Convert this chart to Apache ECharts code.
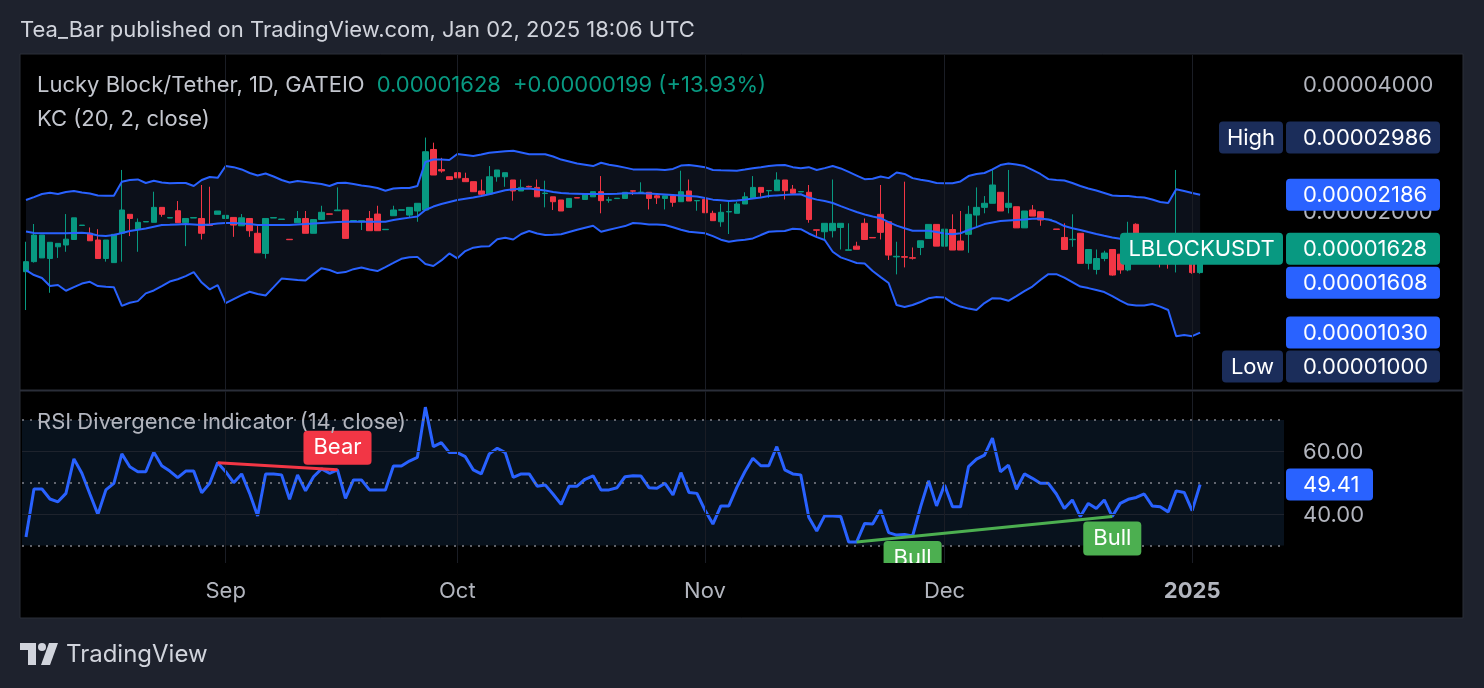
<!DOCTYPE html>
<html>
<head>
<meta charset="utf-8">
<title>LBLOCKUSDT 1D - KC + RSI divergence</title>
<script src="https://cdn.jsdelivr.net/npm/echarts@6.0.0/dist/echarts.min.js"></script>
<style>
  html, body { margin: 0; padding: 0; background: #1e222d; }
  #chart { width: 1484px; height: 688px; }
</style>
</head>
<body>
<div id="chart"></div>
<script>
// prices are kept in units of 0.00001 USDT
const UNIT = 1e-5
const firstDay = '2024-08-07'
const missingDay = '2024-09-17' // the feed has one September bar less
const padBars = 10

const opens = [
  1.436, 1.517, 1.548, 1.543, 1.645, 1.661, 1.712, 1.848, 1.771, 1.707,
  1.543, 1.509, 1.771, 1.964, 1.811, 1.884, 1.880, 2.040, 1.925, 2.003,
  1.876, 1.925, 1.920, 1.859, 1.964, 1.920, 1.931, 1.845, 1.920, 1.771,
  1.587, 1.925, 1.910, 1.714, 1.876, 1.920, 1.771, 1.909, 1.969, 2.003,
  2.011, 1.895, 1.886, 1.920, 1.967, 1.806, 1.949, 2.009, 1.956, 2.000,
  2.011, 2.798, 2.508, 2.411, 2.465, 2.389, 2.347, 2.231, 2.194, 2.411,
  2.411, 2.369, 2.231, 2.288, 2.275, 2.200, 2.161, 2.124, 2.040, 2.151,
  2.130, 2.161, 2.222, 2.122, 2.140, 2.142, 2.233, 2.213, 2.215, 2.173,
  2.142, 2.173, 2.104, 2.231, 2.114, 2.130, 1.975, 1.886, 1.990, 1.975,
  2.078, 2.142, 2.275, 2.233, 2.234, 2.369, 2.253, 2.220, 2.215, 1.805,
  1.786, 1.796, 1.828, 1.614, 1.651, 1.870, 1.731, 1.964, 1.886, 1.557,
  1.559, 1.550, 1.639, 1.722, 1.859, 1.651, 1.808, 1.698, 1.761, 1.956,
  2.040, 2.086, 2.215, 2.040, 2.047, 1.824, 2.011, 1.992, 1.907, 1.813,
  1.731, 1.710, 1.771, 1.503, 1.454, 1.543, 1.621, 1.580, 1.450, 1.860,
  1.620, 1.620, 1.540, 1.530, 1.500, 1.600, 1.510, 1.429
]
const closes = [
  1.517, 1.754, 1.754, 1.686, 1.676, 1.715, 1.927, 1.852, 1.700, 1.543,
  1.707, 1.761, 2.011, 1.920, 1.880, 1.888, 2.040, 1.964, 1.929, 1.876,
  1.920, 1.929, 1.771, 1.849, 2.000, 1.953, 1.852, 1.927, 1.796, 1.592,
  1.920, 1.929, 1.914, 1.710, 1.920, 1.771, 1.909, 1.986, 1.965, 2.011,
  1.722, 1.899, 1.897, 1.796, 1.796, 1.810, 2.011, 2.013, 2.040, 2.086,
  2.764, 2.434, 2.488, 2.375, 2.397, 2.347, 2.222, 2.191, 2.411, 2.502,
  2.465, 2.231, 2.275, 2.280, 2.161, 2.205, 2.104, 2.000, 2.142, 2.147,
  2.191, 2.222, 2.116, 2.126, 2.144, 2.215, 2.229, 2.217, 2.142, 2.149,
  2.173, 2.097, 2.222, 2.112, 2.118, 1.981, 1.897, 1.986, 1.994, 2.078,
  2.161, 2.275, 2.215, 2.237, 2.369, 2.234, 2.203, 2.224, 1.909, 1.801,
  1.870, 1.870, 1.870, 1.618, 1.623, 1.712, 1.727, 1.780, 1.572, 1.562,
  1.554, 1.546, 1.700, 1.859, 1.651, 1.811, 1.616, 1.616, 1.964, 2.040,
  2.086, 2.305, 2.000, 2.086, 1.824, 2.000, 1.945, 1.904, 1.911, 1.809,
  1.621, 1.714, 1.503, 1.621, 1.543, 1.590, 1.410, 1.450, 1.600, 1.620,
  1.640, 1.540, 1.530, 1.500, 1.600, 1.550, 1.429, 1.628
]
const lows = [
  1.165, 1.509, 1.548, 1.280, 1.548, 1.601, 1.712, 1.848, 1.700, 1.543,
  1.517, 1.509, 1.517, 1.744, 1.601, 1.884, 1.880, 1.938, 1.925, 1.876,
  1.651, 1.925, 1.712, 1.849, 1.964, 1.000, 1.737, 1.845, 1.737, 1.592,
  1.543, 1.925, 1.910, 1.710, 1.876, 1.771, 1.771, 1.909, 1.965, 2.003,
  1.722, 1.895, 1.803, 1.796, 1.796, 1.806, 1.949, 2.009, 1.931, 1.886,
  2.011, 2.434, 2.465, 2.375, 2.097, 2.347, 2.222, 2.161, 2.194, 2.347,
  2.283, 2.116, 2.231, 2.275, 2.161, 2.040, 2.011, 2.000, 2.040, 2.147,
  2.130, 2.161, 1.975, 2.093, 2.140, 2.142, 2.182, 2.213, 2.017, 2.078,
  2.017, 2.047, 2.104, 2.112, 2.003, 1.981, 1.897, 1.835, 1.764, 1.975,
  2.078, 2.142, 2.161, 2.149, 2.234, 2.130, 2.182, 2.220, 1.876, 1.744,
  1.712, 1.731, 1.621, 1.614, 1.623, 1.712, 1.727, 1.712, 1.531, 1.415,
  1.470, 1.534, 1.572, 1.722, 1.651, 1.651, 1.616, 1.616, 1.592, 1.828,
  1.975, 2.086, 2.000, 1.975, 1.824, 1.824, 1.945, 1.845, 1.907, 1.809,
  1.621, 1.645, 1.503, 1.454, 1.415, 1.520, 1.405, 1.420, 1.440, 1.600,
  1.580, 1.520, 1.470, 1.460, 1.430, 1.530, 1.420, 1.420
]
const highs = [
  1.691, 1.863, 1.754, 1.686, 1.676, 1.967, 1.927, 1.852, 1.828, 1.811,
  1.707, 1.761, 2.502, 1.964, 1.920, 1.888, 2.222, 2.040, 1.929, 2.112,
  1.920, 1.929, 2.305, 2.283, 2.000, 1.953, 1.931, 1.967, 1.920, 1.842,
  1.920, 1.929, 1.914, 1.714, 2.000, 2.000, 1.909, 2.058, 1.969, 2.275,
  2.011, 1.899, 1.897, 2.000, 2.058, 1.810, 2.058, 2.013, 2.040, 2.086,
  2.986, 2.904, 2.673, 2.411, 2.729, 2.465, 2.347, 2.375, 2.556, 2.502,
  2.465, 2.369, 2.375, 2.296, 2.375, 2.360, 2.161, 2.124, 2.142, 2.151,
  2.191, 2.222, 2.420, 2.161, 2.144, 2.215, 2.233, 2.339, 2.215, 2.203,
  2.173, 2.173, 2.492, 2.375, 2.118, 2.130, 2.003, 2.078, 2.104, 2.104,
  2.215, 2.420, 2.275, 2.237, 2.471, 2.369, 2.305, 2.224, 2.305, 1.805,
  1.870, 2.375, 1.870, 1.870, 1.691, 1.920, 1.731, 2.305, 1.886, 1.691,
  2.347, 1.639, 1.700, 1.859, 1.859, 1.859, 1.964, 2.000, 2.058, 2.275,
  2.170, 2.502, 2.215, 2.502, 2.047, 2.000, 2.066, 1.992, 1.911, 1.813,
  1.870, 1.964, 1.771, 1.621, 1.621, 1.610, 1.621, 1.600, 1.886, 1.870,
  1.660, 1.630, 1.560, 1.540, 2.502, 1.630, 1.550, 1.650
]

// Keltner channel (20, 2, close)
const kcUpper = [
  2.124, 2.158, 2.194, 2.210, 2.194, 2.219, 2.231, 2.213, 2.200, 2.176,
  2.173, 2.173, 2.347, 2.369, 2.376, 2.330, 2.360, 2.337, 2.327, 2.330,
  2.330, 2.292, 2.369, 2.407, 2.397, 2.556, 2.541, 2.509, 2.461, 2.427,
  2.454, 2.414, 2.369, 2.337, 2.356, 2.343, 2.330, 2.317, 2.292, 2.330,
  2.334, 2.317, 2.298, 2.286, 2.268, 2.234, 2.262, 2.268, 2.268, 2.292,
  2.613, 2.648, 2.648, 2.642, 2.730, 2.715, 2.700, 2.722, 2.749, 2.760,
  2.770, 2.779, 2.752, 2.725, 2.725, 2.725, 2.692, 2.648, 2.620, 2.592,
  2.574, 2.556, 2.603, 2.574, 2.556, 2.534, 2.510, 2.510, 2.510, 2.509,
  2.502, 2.516, 2.563, 2.570, 2.556, 2.541, 2.502, 2.498, 2.495, 2.492,
  2.509, 2.527, 2.541, 2.556, 2.566, 2.570, 2.541, 2.527, 2.541, 2.502,
  2.527, 2.556, 2.523, 2.475, 2.427, 2.380, 2.386, 2.414, 2.393, 2.468,
  2.448, 2.393, 2.373, 2.356, 2.330, 2.327, 2.327, 2.350, 2.420, 2.448,
  2.461, 2.509, 2.570, 2.592, 2.577, 2.556, 2.502, 2.448, 2.380, 2.369,
  2.363, 2.330, 2.292, 2.262, 2.237, 2.207, 2.176, 2.170, 2.170, 2.158,
  2.152, 2.130, 2.101, 2.089, 2.253, 2.231, 2.207, 2.186
]
const kcMid = [
  1.788, 1.774, 1.771, 1.771, 1.771, 1.771, 1.774, 1.777, 1.769, 1.749,
  1.744, 1.754, 1.774, 1.793, 1.805, 1.818, 1.836, 1.852, 1.855, 1.859,
  1.862, 1.859, 1.854, 1.857, 1.868, 1.873, 1.873, 1.868, 1.862, 1.852,
  1.852, 1.852, 1.852, 1.854, 1.859, 1.862, 1.868, 1.873, 1.878, 1.883,
  1.885, 1.886, 1.886, 1.886, 1.886, 1.886, 1.904, 1.918, 1.929, 1.940,
  2.011, 2.049, 2.078, 2.101, 2.124, 2.139, 2.154, 2.170, 2.191, 2.215,
  2.239, 2.253, 2.257, 2.262, 2.249, 2.237, 2.219, 2.206, 2.200, 2.197,
  2.194, 2.194, 2.194, 2.194, 2.198, 2.203, 2.203, 2.203, 2.199, 2.194,
  2.188, 2.182, 2.176, 2.170, 2.164, 2.146, 2.128, 2.121, 2.112, 2.118,
  2.128, 2.142, 2.154, 2.170, 2.178, 2.184, 2.188, 2.191, 2.152, 2.128,
  2.112, 2.089, 2.054, 2.020, 1.989, 1.962, 1.940, 1.923, 1.883, 1.847,
  1.821, 1.796, 1.796, 1.796, 1.783, 1.769, 1.761, 1.771, 1.803, 1.831,
  1.862, 1.878, 1.894, 1.899, 1.904, 1.909, 1.918, 1.920, 1.909, 1.883,
  1.842, 1.821, 1.803, 1.783, 1.764, 1.747, 1.731, 1.718, 1.707, 1.698,
  1.688, 1.674, 1.660, 1.647, 1.642, 1.628, 1.616, 1.608
]
const kcLower = [
  1.449, 1.410, 1.387, 1.328, 1.335, 1.294, 1.320, 1.346, 1.359, 1.328,
  1.323, 1.320, 1.192, 1.212, 1.223, 1.276, 1.296, 1.328, 1.361, 1.378,
  1.402, 1.433, 1.353, 1.304, 1.335, 1.210, 1.237, 1.264, 1.287, 1.271,
  1.261, 1.320, 1.383, 1.378, 1.372, 1.368, 1.417, 1.464, 1.449, 1.425,
  1.433, 1.456, 1.469, 1.453, 1.441, 1.473, 1.506, 1.541, 1.553, 1.557,
  1.498, 1.481, 1.527, 1.587, 1.545, 1.607, 1.637, 1.647, 1.651, 1.715,
  1.729, 1.712, 1.764, 1.793, 1.769, 1.754, 1.757, 1.761, 1.783, 1.805,
  1.826, 1.845, 1.786, 1.805, 1.824, 1.842, 1.873, 1.868, 1.859, 1.857,
  1.852, 1.831, 1.805, 1.786, 1.779, 1.771, 1.744, 1.710, 1.691, 1.702,
  1.710, 1.722, 1.754, 1.786, 1.790, 1.793, 1.816, 1.811, 1.769, 1.734,
  1.707, 1.601, 1.553, 1.530, 1.506, 1.502, 1.441, 1.394, 1.350, 1.197,
  1.184, 1.197, 1.217, 1.242, 1.250, 1.247, 1.210, 1.187, 1.174, 1.165,
  1.210, 1.243, 1.240, 1.225, 1.257, 1.292, 1.324, 1.372, 1.417, 1.417,
  1.390, 1.357, 1.324, 1.313, 1.299, 1.285, 1.257, 1.227, 1.200, 1.194,
  1.194, 1.204, 1.187, 1.165, 1.010, 1.016, 1.010, 1.030
]

// RSI (14, close)
const rsi = [
  32.7, 48.0, 48.0, 44.8, 43.9, 46.6, 57.6, 53.0, 46.4, 39.9,
  47.7, 49.8, 59.2, 55.1, 53.5, 53.5, 59.7, 55.4, 53.7, 51.6,
  53.7, 53.7, 46.8, 49.8, 56.4, 53.5, 50.0, 52.8, 46.6, 39.4,
  52.8, 52.8, 52.5, 44.7, 52.5, 47.4, 51.9, 54.4, 53.0, 54.1,
  45.0, 50.9, 50.9, 47.7, 47.7, 47.7, 55.3, 55.3, 56.9, 58.1,
  74.1, 61.5, 62.8, 59.6, 59.6, 58.3, 54.1, 52.8, 59.2, 61.0,
  59.6, 51.7, 52.8, 52.8, 48.9, 49.3, 46.3, 43.1, 48.9, 48.9,
  51.1, 52.2, 47.7, 47.7, 48.4, 51.9, 52.2, 52.1, 48.4, 48.2,
  49.8, 46.1, 53.2, 46.9, 46.6, 41.3, 36.8, 42.6, 42.6, 48.5,
  53.5, 57.8, 55.4, 55.4, 61.5, 54.1, 52.8, 52.5, 39.0, 34.6,
  39.5, 39.4, 39.2, 31.1, 31.1, 37.0, 36.8, 41.3, 34.1, 33.3,
  33.5, 33.0, 42.3, 50.6, 42.6, 49.3, 42.3, 42.3, 55.1, 57.5,
  58.8, 64.2, 53.5, 55.6, 47.9, 52.8, 51.4, 49.8, 49.8, 46.4,
  41.8, 44.5, 39.2, 43.4, 41.8, 44.5, 39.2, 43.4, 44.7, 45.3,
  46.4, 42.6, 42.3, 40.7, 47.4, 46.9, 41.1, 49.41
]

// divergences: [from bar, to bar], and the pivot bars that carry a label
const bearLine = [24, 39]
const bullLine = [104, 136]
const bearLabels = [39]
const bullLabels = [111, 136]

const priceTicks = [1, 2, 4]
const rsiTicks = [40, 60]
const rsiLevels = [30, 50, 70]
const monthNames = ['Jan', 'Feb', 'Mar', 'Apr', 'May', 'Jun', 'Jul', 'Aug', 'Sep', 'Oct', 'Nov', 'Dec']

const UP = '#089981'
const DOWN = '#f23645'
const BULL = '#4caf50'
const BLUE = '#2962ff'
const FONT = 'Inter, Roboto, sans-serif'

function buildDays () {
  const out = []
  const d = new Date(firstDay + 'T00:00:00Z')
  while (out.length < opens.length + padBars) {
    const s = d.toISOString().slice(0, 10)
    if (s !== missingDay) out.push(s)
    d.setUTCDate(d.getUTCDate() + 1)
  }
  return out
}
const days = buildDays()
const isMonthStart = i => days[i].slice(8) === '01'
const monthBars = days.map((d, i) => i).filter(isMonthStart)

const candles = opens.map((o, i) => [o * UNIT, closes[i] * UNIT, lows[i] * UNIT, highs[i] * UNIT])
const toPrice = arr => arr.map(v => v * UNIT)
const last = arr => arr[arr.length - 1]

const vLines = monthBars.map(i => ({ xAxis: i }))
const gridLineStyle = { color: '#1a1d25', width: 1, type: 'solid' }

function divLabel (i, text, color, dy) {
  return {
    coord: [i, rsi[i]], symbol: 'circle', symbolSize: 0,
    label: {
      show: true, position: 'inside', offset: [0, dy], formatter: text,
      color: '#fff', fontSize: 22, fontFamily: FONT, lineHeight: 22,
      backgroundColor: color, borderRadius: 4, padding: [6, 10]
    }
  }
}

const option = {
  backgroundColor: '#1e222d',
  animation: false,
  grid: [
    { left: 22, top: 55, width: 1262, height: 335 },
    { left: 22, top: 391, width: 1262, height: 172 }
  ],
  xAxis: [
    {
      type: 'category', gridIndex: 0, data: days, boundaryGap: true,
      axisLine: { show: false }, axisTick: { show: false }, axisLabel: { show: false }, splitLine: { show: false }
    },
    {
      type: 'category', gridIndex: 1, data: days, boundaryGap: true,
      axisLine: { show: false }, axisTick: { show: false }, splitLine: { show: false },
      axisLabel: {
        interval: (i) => isMonthStart(i),
        formatter: (v) => {
          const m = +v.slice(5, 7)
          return m === 1 ? '{b|' + v.slice(0, 4) + '}' : monthNames[m - 1]
        },
        color: '#b2b5be', fontSize: 22, fontFamily: FONT, margin: 17,
        rich: { b: { fontWeight: 'bold', fontSize: 22, color: '#b2b5be', fontFamily: FONT } }
      }
    }
  ],
  yAxis: [
    {
      type: 'log', gridIndex: 0, position: 'right',
      min: 0.7529 * UNIT, max: 4.686 * UNIT,
      axisLine: { show: false }, axisTick: { show: false }, axisLabel: { show: false }, splitLine: { show: false }
    },
    {
      type: 'value', gridIndex: 1, position: 'right', min: 24.39, max: 79.25,
      axisLine: { show: false }, axisTick: { show: false }, axisLabel: { show: false }, splitLine: { show: false }
    }
  ],
  series: [
    {
      name: 'kcBase', type: 'line', xAxisIndex: 0, yAxisIndex: 0, stack: 'kc',
      data: toPrice(kcLower), symbol: 'none', lineStyle: { opacity: 0 }, silent: true, z: 1
    },
    {
      name: 'kcBand', type: 'line', xAxisIndex: 0, yAxisIndex: 0, stack: 'kc',
      data: kcUpper.map((u, i) => (u - kcLower[i]) * UNIT), symbol: 'none',
      lineStyle: { opacity: 0 }, areaStyle: { color: 'rgba(22, 30, 48, 0.55)', opacity: 1 }, silent: true, z: 1
    },
    {
      name: 'price', type: 'candlestick', xAxisIndex: 0, yAxisIndex: 0, data: candles,
      barWidth: 6, z: 3,
      itemStyle: { color: UP, color0: DOWN, borderColor: UP, borderColor0: DOWN, borderWidth: 1 },
      markLine: {
        silent: true, symbol: ['none', 'none'], label: { show: false },
        data: [
          ...priceTicks.map(v => ({ yAxis: v * UNIT, lineStyle: gridLineStyle })),
          ...vLines.map(d => ({ ...d, lineStyle: gridLineStyle })),
          { yAxis: last(closes) * UNIT, lineStyle: { color: UP, width: 2, type: [2, 6] } }
        ]
      }
    },
    {
      name: 'KC upper', type: 'line', xAxisIndex: 0, yAxisIndex: 0, data: toPrice(kcUpper),
      symbol: 'none', lineStyle: { color: BLUE, width: 2 }, z: 4
    },
    {
      name: 'KC basis', type: 'line', xAxisIndex: 0, yAxisIndex: 0, data: toPrice(kcMid),
      symbol: 'none', lineStyle: { color: BLUE, width: 2 }, z: 4
    },
    {
      name: 'KC lower', type: 'line', xAxisIndex: 0, yAxisIndex: 0, data: toPrice(kcLower),
      symbol: 'none', lineStyle: { color: BLUE, width: 2 }, z: 4
    },
    {
      name: 'RSI', type: 'line', xAxisIndex: 1, yAxisIndex: 1, data: rsi,
      symbol: 'none', lineStyle: { color: BLUE, width: 3 }, z: 4,
      markArea: {
        silent: true,
        itemStyle: { color: 'rgba(14, 32, 52, 0.55)' },
        data: [[{ yAxis: rsiLevels[0] }, { yAxis: rsiLevels[2] }]]
      },
      markLine: {
        silent: true, symbol: ['none', 'none'], label: { show: false },
        data: [
          ...rsiTicks.map(v => ({ yAxis: v, lineStyle: { color: '#1e232d', width: 1, type: 'solid' } })),
          ...rsiLevels.map(v => ({ yAxis: v, lineStyle: { color: '#80838c', width: 1.5, type: [2, 6] } })),
          ...vLines.map(d => ({ ...d, lineStyle: gridLineStyle })),
          [
            { coord: [bearLine[0], rsi[bearLine[0]]], lineStyle: { color: DOWN, width: 3, type: 'solid' } },
            { coord: [bearLine[1], rsi[bearLine[1]]] }
          ],
          [
            { coord: [bullLine[0], rsi[bullLine[0]]], lineStyle: { color: BULL, width: 3, type: 'solid' } },
            { coord: [bullLine[1], rsi[bullLine[1]]] }
          ]
        ]
      },
      markPoint: {
        silent: true,
        data: [
          ...bearLabels.map(i => divLabel(i, 'Bear', DOWN, -22)),
          ...bullLabels.map(i => divLabel(i, 'Bull', BULL, 22))
        ]
      }
    }
  ]
}

const chart = echarts.init(document.getElementById('chart'), null, { renderer: 'canvas' })
chart.setOption(option)

// ----- overlays: frame, texts, price scale labels -----
const py = v => chart.convertToPixel({ yAxisIndex: 0 }, v)
const ry = v => chart.convertToPixel({ yAxisIndex: 1 }, v)

function text (x, y, str, color, size, align, z) {
  return {
    type: 'text', x, y, z: z || 60,
    style: { text: str, fill: color, font: size + 'px ' + FONT, align: align || 'left', verticalAlign: 'middle' }
  }
}

function badge (y, str, bg, width) {
  return [
    { type: 'rect', z: 70, shape: { x: 1286, y: y - 16, width: width || 154, height: 32, r: 4 }, style: { fill: bg } },
    text(1303, y + 1, str, '#ffffff', 22, 'left', 71)
  ]
}

const hi = Math.max(...highs)
const lo = Math.min(...lows)
const badgeDefs = [
  { v: hi, bg: '#1b2d5a', tag: 'High', tagW: 64 },
  { v: last(kcUpper), bg: BLUE },
  { v: last(closes), bg: UP, tag: 'LBLOCKUSDT', tagW: 163 },
  { v: last(kcMid), bg: BLUE },
  { v: last(kcLower), bg: BLUE },
  { v: lo, bg: '#1b2d5a', tag: 'Low', tagW: 61 }
].map(b => ({ ...b, y: py(b.v * UNIT) })).sort((a, b) => a.y - b.y)

// stack the labels like the price scale does when they collide
let prev = -1e9
badgeDefs.forEach(b => {
  if (b.y < prev + 34) b.y = prev + 34
  prev = b.y
})

const badgeEls = []
badgeDefs.forEach(b => {
  badgeEls.push(...badge(b.y, (b.v * UNIT).toFixed(8), b.bg))
  if (b.tag) {
    badgeEls.push({ type: 'rect', z: 70, shape: { x: 1283 - b.tagW, y: b.y - 16, width: b.tagW, height: 32, r: 4 }, style: { fill: b.bg } })
    badgeEls.push(text(1283 - b.tagW / 2, b.y + 1, b.tag, '#ffffff', 22, 'center', 71))
  }
})

const change = last(closes) - closes[closes.length - 2]
const pct = (last(closes) / closes[closes.length - 2] - 1) * 100

const graphics = [
  { type: 'rect', z: -10, shape: { x: 20, y: 54, width: 1443, height: 564 }, style: { fill: '#000000', stroke: '#2a2e39', lineWidth: 1 } },
  { type: 'line', z: -5, shape: { x1: 20, y1: 390.5, x2: 1463, y2: 390.5 }, style: { stroke: '#2a2e39', lineWidth: 2 } },
  // the time scale hides the lower part of the first bull label
  { type: 'rect', z: 50, shape: { x: 860, y: 563, width: 100, height: 18 }, style: { fill: '#000000' } },
  text(20, 30, 'Tea_Bar published on TradingView.com, Jan 02, 2025 18:06 UTC', '#d1d4dc', 22),
  {
    type: 'text', x: 37, y: 85, z: 60,
    style: {
      text: '{a|Lucky Block/Tether, 1D, GATEIO}{g|' + (last(closes) * UNIT).toFixed(8) + '}{g|+' + (change * UNIT).toFixed(8) + ' (+' + pct.toFixed(2) + '%)}',
      verticalAlign: 'middle',
      rich: {
        a: { fill: '#c3c6ce', font: '22px ' + FONT },
        g: { fill: UP, font: '22px ' + FONT, padding: [0, 0, 0, 12] }
      }
    }
  },
  text(37, 119, 'KC (20, 2, close)', '#c3c6ce', 22),
  text(37, 422, 'RSI Divergence Indicator (14, close)', '#b2b5be', 22),
  ...priceTicks.map(v => text(1303, py(v * UNIT) + 1, (v * UNIT).toFixed(8), '#b2b5be', 22, 'left', 55)),
  ...rsiTicks.map(v => text(1303, ry(v) + 1, v.toFixed(2), '#b2b5be', 22, 'left', 55)),
  ...badge(ry(last(rsi)), last(rsi).toFixed(2), BLUE, 87),
  ...badgeEls,
  // TradingView mark
  { type: 'rect', z: 60, shape: { x: 20, y: 643, width: 16, height: 7 }, style: { fill: '#d1d4dc' } },
  { type: 'rect', z: 60, shape: { x: 28, y: 643, width: 8, height: 22 }, style: { fill: '#d1d4dc' } },
  { type: 'circle', z: 60, shape: { cx: 42, cy: 647, r: 4 }, style: { fill: '#d1d4dc' } },
  { type: 'polygon', z: 60, shape: { points: [[49, 643], [58, 643], [50, 665], [41, 665]] }, style: { fill: '#d1d4dc' } },
  text(66, 655, 'TradingView', '#d1d4dc', 24)
]

chart.setOption({ graphic: graphics })
</script>
</body>
</html>
